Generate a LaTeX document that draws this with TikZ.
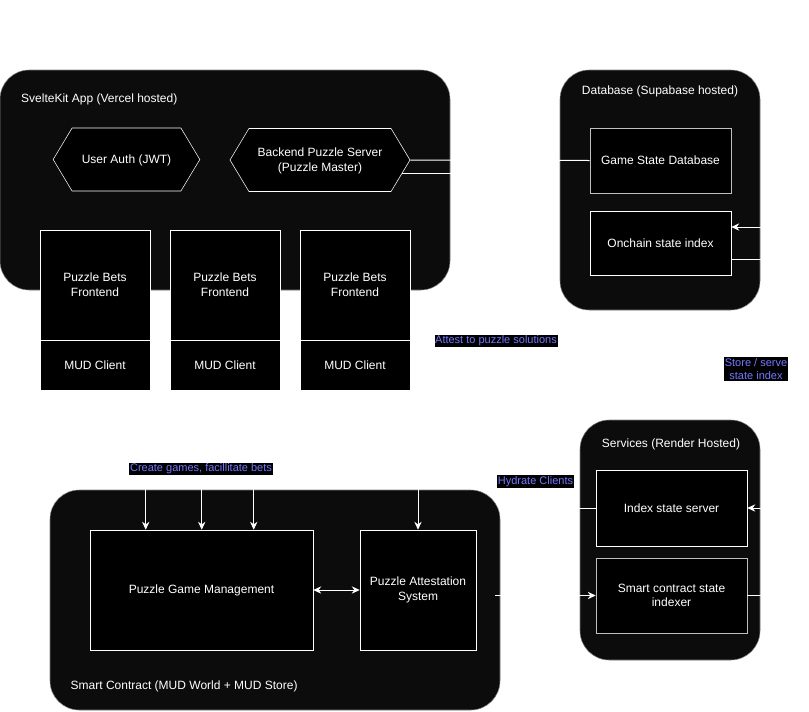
\documentclass[tikz,border=0pt]{standalone}
\usepackage{fontspec}
\setmainfont{Liberation Sans}
\usetikzlibrary{arrows.meta,positioning,shapes.symbols,fit}
\definecolor{groupfill}{RGB}{12,12,12}
\definecolor{tagblue}{RGB}{118,118,255}

\begin{document}
\begin{tikzpicture}[x=0.75pt,y=-0.75pt,
    group/.style={draw=gray, fill=groupfill, rounded corners=22pt, inner sep=0pt},
    title/.style={text=white, font=\fontsize{9}{11}\selectfont},
    box/.style={draw=white, fill=black, inner sep=0pt},
    boxtext/.style={text=white, align=center, inner sep=0pt, font=\fontsize{9}{11}\selectfont},
    hexa/.style={box, signal, signal to=west and east, signal pointer angle=118, minimum height=47.25pt},
    wire/.style={draw=white, line width=0.75pt},
    arr/.style={wire, -{Stealth[length=6pt,width=5.5pt]}},
    tag/.style={fill=black, text=tagblue, align=center, inner xsep=0.5pt, inner ysep=1pt, font=\fontsize{8.25}{9.8}\selectfont}]
    \useasboundingbox[fill=white] (0,0) rectangle (809,711);
    % Containers
    \node[group, fit={(0,70) (450,290)}] (svelte) {};
    \node[group, fit={(560,70) (760,310)}] (db) {};
    \node[group, fit={(580,420) (760,660)}] (svc) {};
    \node[group, fit={(50,490) (500,710)}] (sc) {};
    \node[title, anchor=west] at (16.5,99) {SvelteKit App (Vercel hosted)};
    \node[title] at (660,91) {Database (Supabase hosted)};
    \node[title] at (671,444) {Services (Render Hosted)};
    \node[title, anchor=west] at (66,686) {Smart Contract (MUD World + MUD Store)};
    % SvelteKit app
    \node[hexa, minimum width=110pt, label={[boxtext, yshift=-0.75pt]center:User Auth (JWT)}] (auth) at (126.5,159.5) {};
    \node[hexa, minimum width=135pt, label={[boxtext, yshift=-0.75pt]center:{Backend Puzzle Server\\(Puzzle Master)}}] (bps) at (320,160) {};
    \node[box, fit={(40,230) (150,340)}, label={[boxtext]center:{Puzzle Bets\\Frontend}}] (fe1) {};
    \node[box, fit={(40,340) (150,390)}, label={[boxtext]center:MUD Client}] (mud1) {};
    \node[box, fit={(170,230) (280,340)}, label={[boxtext]center:{Puzzle Bets\\Frontend}}] (fe2) {};
    \node[box, fit={(170,340) (280,390)}, label={[boxtext]center:MUD Client}] (mud2) {};
    \node[box, fit={(300,230) (410,340)}, label={[boxtext]center:{Puzzle Bets\\Frontend}}] (fe3) {};
    \node[box, fit={(300,340) (410,390)}, label={[boxtext]center:MUD Client}] (mud3) {};
    % Database
    \node[box, draw=white!75!black, fit={(590,128) (731,193)}, label={[boxtext]center:Game State Database}] (gsd) {};
    \node[box, fit={(590,211) (731,275)}, label={[boxtext]center:Onchain state index}] (osi) {};
    % Services
    \node[box, fit={(596,470) (747,546)}, label={[boxtext]center:Index state server}] (iss) {};
    \node[box, draw=white!75!black, fit={(596,558) (747,633)}, label={[boxtext]center:{Smart contract state\\indexer}}] (scsi) {};
    % Smart contract
    \node[box, fit={(90,530) (313,650)}, label={[boxtext]center:Puzzle Game Management}] (pgm) {};
    \node[box, fit={(360,530) (476,650)}, label={[boxtext]center:{Puzzle Attestation\\System}}] (pas) {};
    \coordinate (scout) at (495,595.5);
    % Connectors
    \draw[wire] (bps.east) -- (gsd.west);
    \draw[arr] (bps.-9) -| ++(93,287) -| (pas.north);
    \draw[arr] (mud1.south) -- ++(0,30) -| ([xshift=42pt]pgm.north west);
    \draw[arr] (mud2.south) -- ++(0,50) -| ([xshift=84pt]pgm.north west);
    \draw[arr] (mud3.south) -- ++(0,40) -| ([xshift=123pt]pgm.north west);
    \draw[arr] (iss.west) -| ++(-61,-98) -| (mud3.south);
    \draw[{Stealth[length=6pt,width=5.5pt]}-{Stealth[length=6pt,width=5.5pt]}, wire] (pgm.east) -- (pas.west);
    \draw[arr] (scout) -- (scsi.west);
    \draw[arr] (scsi.east) -| ++(28,-200) |- ([yshift=12pt]osi.east);
    \draw[arr] ([yshift=-12pt]osi.east) -| ++(54,100) |- (iss.east);
    % Edge labels
    \node[tag] (attest) at (496,341) {Attest to puzzle solutions};
    \node[tag] (create) at (201,469) {Create games, facillitate bets};
    \node[tag] (hydrate) at (535.5,481.5) {Hydrate Clients};
    \node[tag] (store) at (756,369) {Store / serve\\state index};
\end{tikzpicture}
\end{document}
